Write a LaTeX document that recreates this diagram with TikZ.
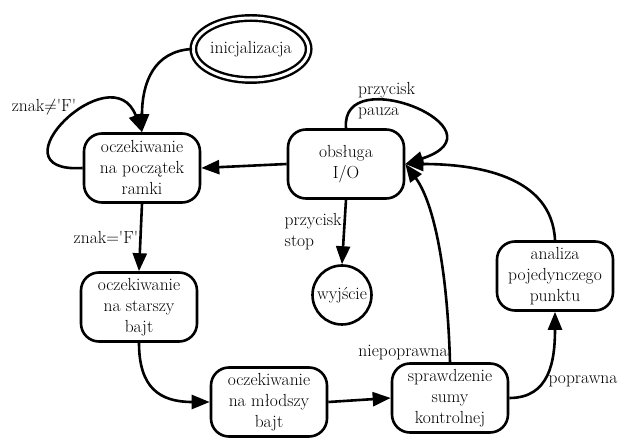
\documentclass[tikz,border=0pt]{standalone}
\usepackage{tikz}
\usetikzlibrary{arrows.meta, positioning, shapes.geometric}

\newcommand{\qF}{\textquotesingle F\textquotesingle}

\begin{document}
\begin{tikzpicture}[
    x=1pt, y=-1pt,
    font=\fontsize{17.5}{21}\selectfont,
    state/.style={
        rectangle, draw, line width=2.6pt,
        rounded corners=18pt,
        minimum width=116pt, minimum height=69pt,
        inner sep=2pt, align=center
    },
    initstate/.style={
        ellipse, draw, line width=2.4pt,
        double, double distance=3pt,
        minimum width=99pt, minimum height=62pt,
        inner sep=0pt
    },
    finalstate/.style={
        circle, draw, line width=2.6pt,
        minimum size=59pt, inner sep=0pt
    },
    tr/.style={-{Triangle[length=18pt, width=14pt]}, line width=2.6pt},
    trlbl/.style={inner sep=1pt, align=left}
]

\useasboundingbox (0,0) rectangle (622,438);

% === STANY ===

\node[initstate] (init) at (251, 49) {inicjalizacja};
\node[state] (pocz) at (142, 168) {oczekiwanie\\na początek\\ramki};
\node[state] (io) at (346, 164) {obsługa\\I/O};
\node[finalstate] (wyj) at (342, 295) {wyjście};
\node[state] (starszy) at (139, 307) {oczekiwanie\\na starszy\\bajt};
\node[state] (mlodszy) at (269, 402) {oczekiwanie\\na młodszy\\bajt};
\node[state] (spr) at (450, 398) {sprawdzenie\\sumy\\kontrolnej};
\node[state] (anal) at (555, 276) {analiza\\pojedynczego\\punktu};

% === PRZEJSCIA ===

% inicjalizacja -> ramka
\draw[tr] (init.west) .. controls +(-38,2) and +(0,-50) .. (pocz.north);

% znak != 'F'
\draw[tr] (pocz.west) .. controls (-12,174) and (112,52) .. (pocz.north);
\node[trlbl] (lblnie) at (44, 107) {znak$\neq$\qF};

% obsluga -> ramka
\draw[tr] (io.west) -- (pocz.east);

% znak = 'F'
\draw[tr] (pocz.south) -- node[trlbl, left] {znak=\qF} (starszy.north);

% starszy -> mlodszy
\draw[tr] (starszy.south) .. controls +(0,45) and +(-50,0) .. (mlodszy.west);

% mlodszy -> suma
\draw[tr] (mlodszy.east) -- (spr.west);

% suma niepoprawna
\draw[tr] (spr.north) .. controls (447,260) and (432,200) .. (io.east)
    node[trlbl, at start, above left] {niepoprawna};

% suma poprawna
\draw[tr] (spr.east) .. controls +(40,0) and +(0,50) .. (anal.south);
\node[trlbl] (lbltak) at (583, 381) {poprawna};

% analiza -> obsluga
\draw[tr] (anal.north) .. controls +(-3,-65) and +(70,0) .. (io.east);

% przycisk pauza
\draw[tr] (io.north) .. controls (340,60) and (510,130) .. (io.east);
\node[trlbl, anchor=west] (lblpauza) at (357, 101) {przycisk\\pauza};

% przycisk stop
\draw[tr] (io.south) -- node[trlbl, left] {przycisk\\stop} (wyj.north);

\end{tikzpicture}
\end{document}
